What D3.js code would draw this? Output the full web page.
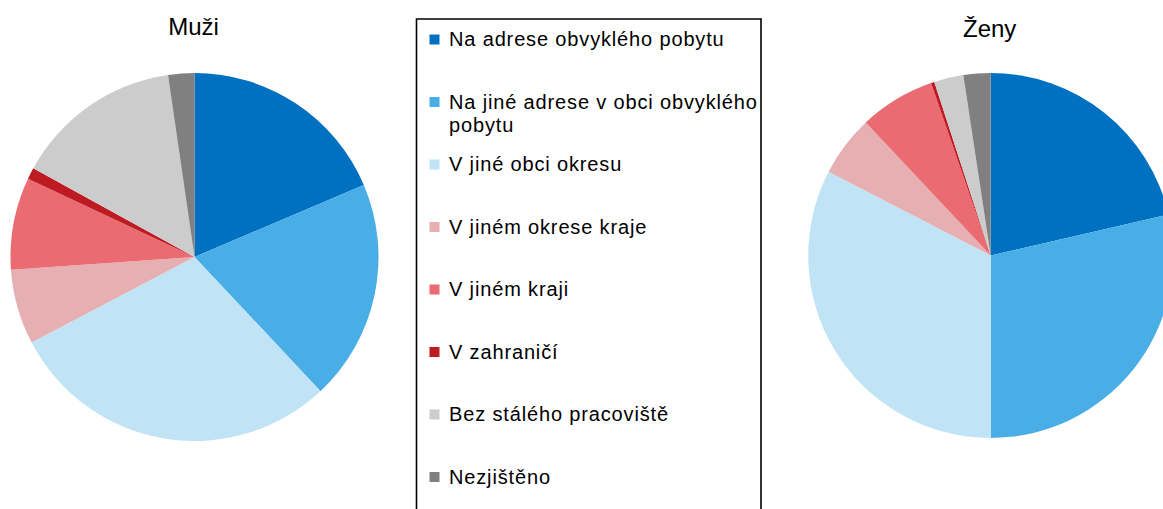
<!DOCTYPE html>
<html>
<head>
<meta charset="utf-8">
<script src="https://cdn.jsdelivr.net/npm/d3@7"></script>
<style>
  html, body { margin: 0; padding: 0; background: #fff; overflow: hidden; }
  svg { display: block; font-family: Arial, "Liberation Sans", sans-serif; }
</style>
</head>
<body>
<svg id="chart" width="1163" height="509"></svg>
<script>
// Místo výkonu práce – podíly (%) podle pohlaví
const categories = [
  "Na adrese obvyklého pobytu",
  "Na jiné adrese v obci obvyklého pobytu",
  "V jiné obci okresu",
  "V jiném okrese kraje",
  "V jiném kraji",
  "V zahraničí",
  "Bez stálého pracoviště",
  "Nezjištěno"
];
const muzi = [18.6, 19.4, 29.3, 6.6, 8.1, 1.0, 14.7, 2.3];
const zeny = [21.4, 28.6, 32.6, 5.4, 6.7, 0.3, 2.6, 2.4];
const titles = ["Muži", "Ženy"];
const colors = ["#0070c0", "#4aaee6", "#c0e4f6", "#e6b0b3", "#ea6b72", "#be1a22", "#cccccc", "#808080"];

const svg = d3.select("#chart");
const color = d3.scaleOrdinal().domain(categories).range(colors);

const pie = d3.pie().sort(null).value(d => d.value);

const charts = [
  { title: titles[0], values: muzi, cx: 194.5, cy: 257, r: 184, ty: 35 },
  { title: titles[1], values: zeny, cx: 990.7, cy: 255.5, r: 182.5, ty: 37 }
];

charts.forEach(c => {
  const g = svg.append("g").attr("transform", `translate(${c.cx},${c.cy})`);
  const arc = d3.arc().innerRadius(0).outerRadius(c.r);
  const data = categories.map((k, i) => ({ key: k, value: c.values[i] }));
  g.selectAll("path")
    .data(pie(data))
    .join("path")
    .attr("d", arc)
    .attr("fill", d => color(d.data.key));
  svg.append("text")
    .attr("x", c.cx - 1)
    .attr("y", c.ty)
    .attr("text-anchor", "middle")
    .attr("font-size", 24)
    .attr("fill", "#000")
    .text(c.title);
});

// Legenda
const lg = { x0: 416.5, x1: 761, y0: 19 };
svg.append("path")
  .attr("d", `M${lg.x0},520 V${lg.y0} H${lg.x1} V520`)
  .attr("fill", "none")
  .attr("stroke", "#000")
  .attr("stroke-width", 1.6);

const rowY = d3.scalePoint().domain(categories).range([46, 483.5]);
const maxTextWidth = 310;

const items = svg.append("g").selectAll("g")
  .data(categories)
  .join("g")
  .attr("transform", d => `translate(0,${rowY(d)})`);

items.append("rect")
  .attr("x", 429.5)
  .attr("y", -11.5)
  .attr("width", 10)
  .attr("height", 10)
  .attr("fill", d => color(d));

items.append("text")
  .attr("x", 449)
  .attr("y", 0)
  .attr("font-size", 20)
  .attr("letter-spacing", "0.85px")
  .attr("fill", "#000")
  .each(function(d) {
    const t = d3.select(this);
    const words = d.split(" ");
    let line = [];
    let tspan = t.append("tspan").attr("x", 449).attr("dy", 0);
    let lineNo = 0;
    words.forEach(w => {
      line.push(w);
      tspan.text(line.join(" "));
      if (tspan.node().getComputedTextLength() > maxTextWidth && line.length > 1) {
        line.pop();
        tspan.text(line.join(" "));
        line = [w];
        lineNo++;
        tspan = t.append("tspan").attr("x", 449).attr("dy", 23.5).text(w);
      }
    });
  });
</script>
</body>
</html>
